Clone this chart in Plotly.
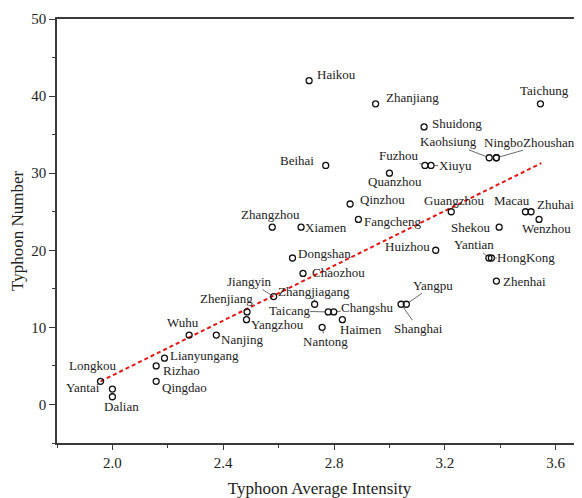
import plotly.graph_objects as go

# city, average intensity, typhoon number
cities = ['Haikou', 'Zhanjiang', 'Taichung', 'Shuidong', 'Kaohsiung', 'Ningbo', 'Zhoushan',
          'Beihai', 'Fuzhou', 'Xiuyu', 'Quanzhou', 'Qinzhou', 'Fangcheng', 'Guangzhou',
          'Macau', 'Zhuhai', 'Wenzhou', 'Shekou', 'Xiamen', 'Zhangzhou', 'Huizhou',
          'Yantian', 'HongKong', 'Zhenhai', 'Dongshan', 'Chaozhou', 'Jiangyin',
          'Zhangjiagang', 'Taicang', 'Changshu', 'Haimen', 'Nantong', 'Yangzhou',
          'Zhenjiang', 'Shanghai', 'Yangpu', 'Wuhu', 'Nanjing', 'Lianyungang', 'Rizhao',
          'Qingdao', 'Longkou', 'Yantai', 'Dalian']
intensity = [2.71, 2.95, 3.545, 3.125, 3.36, 3.386, 3.386,
             2.77, 3.128, 3.15, 3.0, 2.858, 2.888, 3.223,
             3.491, 3.511, 3.54, 3.396, 2.681, 2.577, 3.167,
             3.359, 3.368, 3.386, 2.65, 2.688, 2.582,
             2.73, 2.779, 2.799, 2.83, 2.757, 2.484,
             2.486, 3.042, 3.061, 2.277, 2.375, 2.188, 2.158,
             2.158, 1.957, 2.0, 2.0]
number = [42, 39, 39, 36, 32, 32, 32,
          31, 31, 31, 30, 26, 24, 25,
          25, 25, 24, 23, 23, 23, 20,
          19, 19, 16, 19, 17, 14,
          13, 12, 12, 11, 10, 11,
          12, 13, 13, 9, 9, 6, 5,
          3, 3, 2, 1]

# fitted trend line ends
trend_x = [1.957, 3.548]
trend_y = [3.0, 31.3]

x_ticks = [2.0, 2.4, 2.8, 3.2, 3.6]
x_ticktext = ['2.0', '2.4', '2.8', '3.2', '3.6']
y_ticks = [0, 10, 20, 30, 40, 50]

# label offsets in pixels (dx, dy screen down), leader line flag
label_pos = {
    'Haikou': (27, -6, False), 'Zhanjiang': (37, -6, False), 'Taichung': (4, -13, False),
    'Shuidong': (33, -3, False), 'Kaohsiung': (-41, -16, True), 'Ningbo': (7, -15, False),
    'Zhoushan': (53, -15, True), 'Beihai': (-29, -5, False), 'Fuzhou': (-26, -10, True),
    'Xiuyu': (24, 0, True), 'Quanzhou': (6, 8, False), 'Qinzhou': (32, -5, False),
    'Fangcheng': (35, 2, False), 'Guangzhou': (3, -11, False), 'Macau': (-13, -11, False),
    'Zhuhai': (24, -7, False), 'Wenzhou': (7, 9, False), 'Shekou': (-28, 0, False),
    'Xiamen': (25, 0, False), 'Zhangzhou': (-2, -13, False), 'Huizhou': (-28, -4, False),
    'Yantian': (-15, -13, True), 'HongKong': (35, 0, True), 'Zhenhai': (28, 0, False),
    'Dongshan': (32, -4, False), 'Chaozhou': (35, -1, False), 'Jiangyin': (-24, -15, True),
    'Zhangjiagang': (-1, -13, True), 'Taicang': (-39, -1, True), 'Changshu': (34, -4, True),
    'Haimen': (19, 10, False), 'Nantong': (3, 14, True), 'Yangzhou': (31, 5, False),
    'Zhenjiang': (-21, -13, False), 'Shanghai': (17, 24, True), 'Yangpu': (27, -19, True),
    'Wuhu': (-6, -13, False), 'Nanjing': (26, 4, False), 'Lianyungang': (40, -3, False),
    'Rizhao': (25, 5, False), 'Qingdao': (28, 6, False), 'Longkou': (-8, -16, False),
    'Yantai': (-29, -2, False), 'Dalian': (9, 10, False),
}

serif = 'Liberation Serif'
axis_col = '#3a3a3a'

fig = go.Figure()

fig.add_trace(
    go.Scatter(
        x=trend_x,
        y=trend_y,
        mode='lines',
        line=dict(color='rgb(235,20,20)', width=2, dash='4px,3px'),
        hoverinfo='skip',
    )
)

fig.add_trace(
    go.Scatter(
        x=intensity,
        y=number,
        text=cities,
        mode='markers',
        marker=dict(symbol='circle-open', size=6, color='#111', line=dict(width=1.3)),
    )
)

for c, xv, yv in zip(cities, intensity, number):
    dx, dy, leader = label_pos[c]
    if leader:
        fig.add_annotation(
            x=xv, y=yv, text=c, showarrow=True,
            ax=dx, ay=dy, arrowhead=0, arrowwidth=0.8, arrowcolor='#444',
            standoff=3, borderpad=0,
            font=dict(family=serif, size=13, color='#222'),
        )
    else:
        fig.add_annotation(
            x=xv, y=yv, text=c, showarrow=False,
            xshift=dx, yshift=-dy,
            font=dict(family=serif, size=13, color='#222'),
        )

# page body adds an 8px margin, so the figure is 8px smaller on each side
fig.update_layout(
    width=574,
    height=490,
    paper_bgcolor='white',
    plot_bgcolor='white',
    showlegend=False,
    margin=dict(l=49, r=0, t=11, b=55, pad=0),
    font=dict(family=serif, color='#222'),
)

fig.update_xaxes(
    range=[1.8, 3.695],
    tickmode='array',
    tickvals=x_ticks,
    ticktext=x_ticktext,
    ticks='outside',
    ticklen=5,
    tickwidth=1.2,
    tickcolor=axis_col,
    minor=dict(ticks='outside', ticklen=3, tickwidth=1.2, tickcolor=axis_col, dtick=0.2, tick0=1.8),
    showline=True,
    linecolor=axis_col,
    linewidth=1.5,
    mirror=True,
    showgrid=False,
    zeroline=False,
    tickfont=dict(family=serif, size=15, color='#222'),
    title=dict(text='Typhoon Average Intensity', font=dict(family=serif, size=17, color='#222'), standoff=12),
    automargin=False,
)

fig.update_yaxes(
    range=[-5, 50],
    tickmode='array',
    tickvals=y_ticks,
    ticks='outside',
    ticklen=6,
    tickwidth=1.2,
    tickcolor=axis_col,
    minor=dict(ticks='outside', ticklen=3, tickwidth=1.2, tickcolor=axis_col, dtick=5, tick0=-5),
    showline=True,
    linecolor=axis_col,
    linewidth=1.5,
    showgrid=False,
    zeroline=False,
    tickfont=dict(family=serif, size=15, color='#222'),
    title=dict(text='Typhoon Number', font=dict(family=serif, size=17, color='#222'), standoff=8),
    automargin=False,
)

fig.write_html("out.html")
